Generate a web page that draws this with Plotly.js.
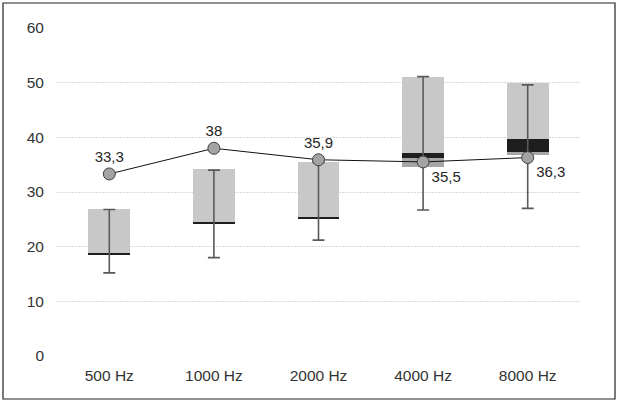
<!DOCTYPE html>
<html>
<head>
<meta charset="utf-8">
<script src="https://cdn.plot.ly/plotly-3.0.1.min.js"></script>
<style>html,body{margin:0;padding:0;background:#fff;}#chart{width:620px;height:405px;}</style>
</head>
<body>
<div id="chart"></div>
<script>
var categories = ["500 Hz", "1000 Hz", "2000 Hz", "4000 Hz", "8000 Hz"];
var boxBottom   = [18.5, 24.1, 25.1, 34.5, 36.8];
var bandLow     = [18.5, 24.1, 25.1, 36.3, 37.4];
var bandHigh    = [18.9, 24.5, 25.4, 37.2, 39.7];
var boxTop      = [26.9, 34.2, 35.5, 51.0, 49.9];
var whiskerLow  = [15.2, 18.0, 21.2, 26.7, 27.0];
var whiskerHigh = [26.8, 34.0, 35.4, 51.1, 49.6];
var meanValues  = [33.3, 38.0, 35.9, 35.5, 36.3];
var meanLabels  = ["33,3", "38", "35,9", "35,5", "36,3"];
var yTicks      = [0, 10, 20, 30, 40, 50, 60];

function diff(a, b) { return a.map(function (v, i) { return v - b[i]; }); }

var barW = 0.4;
var traces = [
  {type: 'bar', x: categories, y: boxBottom, width: barW, marker: {color: 'rgba(0,0,0,0)'}, hoverinfo: 'skip', showlegend: false},
  {type: 'bar', x: categories, y: diff(bandLow, boxBottom), width: barW, marker: {color: '#a6a6a6'}, showlegend: false},
  {type: 'bar', x: categories, y: diff(bandHigh, bandLow), width: barW, marker: {color: '#1e1e1e'}, showlegend: false},
  {type: 'bar', x: categories, y: diff(boxTop, bandHigh), width: barW, marker: {color: '#c8c8c8'}, showlegend: false},
  {type: 'scatter', mode: 'markers', x: categories, y: boxBottom, marker: {opacity: 0, size: 1}, showlegend: false,
   error_y: {type: 'data', symmetric: false, array: diff(whiskerHigh, boxBottom), arrayminus: diff(boxBottom, whiskerLow),
             color: '#5a5a5a', thickness: 1.6, width: 6}},
  {type: 'scatter', mode: 'lines+markers+text', x: categories, y: meanValues, text: meanLabels,
   textposition: ['top center', 'top center', 'top center', 'bottom right', 'bottom right'],
   textfont: {family: 'Liberation Sans, Arial, sans-serif', size: 15, color: '#262626'},
   line: {color: '#111111', width: 1},
   marker: {symbol: 'circle', size: 12, color: '#a3a3a3', line: {color: '#404040', width: 1}},
   showlegend: false, cliponaxis: false}
];

var L = 57, R = 40, T = 28, B = 49, W = 620, H = 405;
var pw = W - L - R, ph = H - T - B;
var layout = {
  width: W, height: H,
  margin: {l: L, r: R, t: T, b: B},
  paper_bgcolor: '#ffffff', plot_bgcolor: '#ffffff',
  barmode: 'stack', bargap: 0.6,
  showlegend: false,
  font: {family: 'Liberation Sans, Arial, sans-serif', size: 15, color: '#404040'},
  xaxis: {type: 'category', showgrid: false, zeroline: false, showline: false, ticks: '', ticklabelstandoff: 8,
          tickfont: {size: 15.5, color: '#333333'}},
  yaxis: {range: [0, 60], tickvals: yTicks, showgrid: true, gridcolor: '#d9d9d9', griddash: '2px,1px', gridwidth: 1,
          zeroline: false, showline: false, ticks: '', ticklabelstandoff: 12, tickfont: {size: 15.5, color: '#333333'}},
  shapes: [{type: 'rect', xref: 'paper', yref: 'paper',
            x0: (3 - L) / pw, x1: (615 - L) / pw, y0: (H - B - 399) / ph, y1: (H - B - 3) / ph,
            line: {color: '#222222', width: 1.2}, fillcolor: 'rgba(0,0,0,0)', layer: 'above'}]
};
Plotly.newPlot('chart', traces, layout, {staticPlot: true, displayModeBar: false});
</script>
</body>
</html>
